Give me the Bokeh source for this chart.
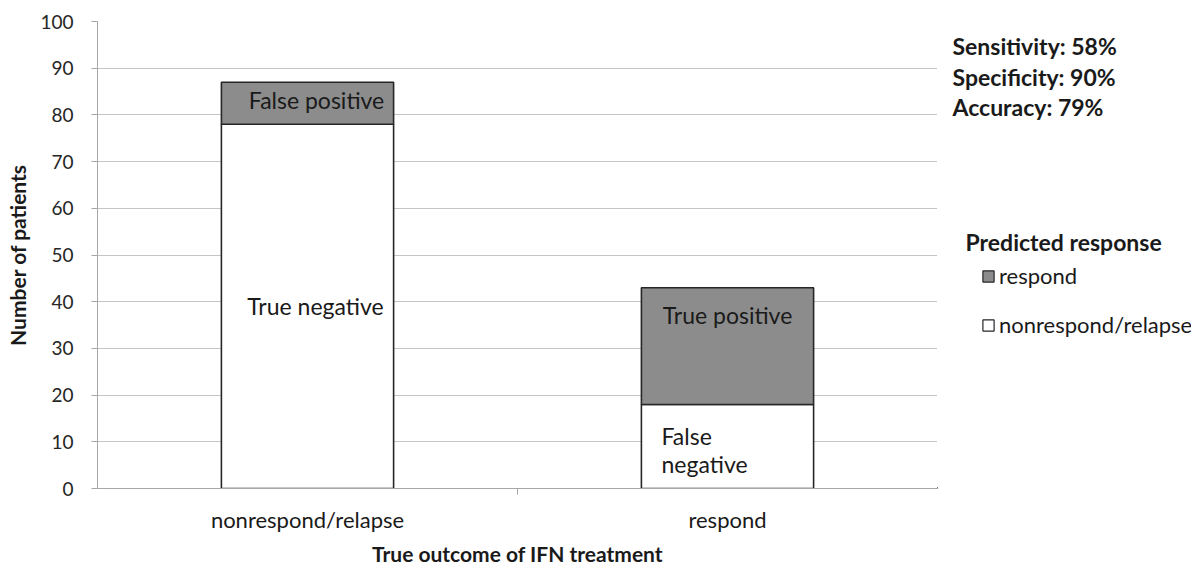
from bokeh.plotting import figure
from bokeh.layouts import row
from bokeh.models import (ColumnDataSource, Range1d, FixedTicker, Legend, LegendItem, Label)
from bokeh.core.properties import value
from bokeh.embed import file_html
from bokeh.resources import INLINE

# ---- data ----
categories = ["nonrespond/relapse", "respond"]
pred_nonrespond = [78, 18]   # True negative, False negative
pred_respond = [9, 25]       # False positive, True positive
white_labels = ["True negative", "False\nnegative"]
gray_labels = ["False positive", "True positive"]
y_ticks = [0, 10, 20, 30, 40, 50, 60, 70, 80, 90, 100]
legend_title = "Predicted response"
legend_labels = ["respond", "nonrespond/relapse"]

TN, FN = pred_nonrespond
FP, TP = pred_respond
sensitivity = TP / (TP + FN)
specificity = TN / (TN + FP)
accuracy = (TP + TN) / (TP + TN + FP + FN)

FONT = "Lato"
GRAY = "#8c8c8c"
EDGE = "#262626"
AX = "#a6a6a6"
TXT = "#1a1a1a"
H = 568
FB = 488   # expected page y of the frame bottom (used for the side panel)

xs = [i + 0.5 for i in range(len(categories))]
src = ColumnDataSource(dict(x=xs, pred_nonrespond=pred_nonrespond, pred_respond=pred_respond))

p = figure(width=937, height=H, output_backend="svg", toolbar_location=None,
           x_range=Range1d(0, len(categories)), y_range=Range1d(0, 100),
           min_border_left=97, min_border_right=0, min_border_top=21,
           min_border_bottom=74)
p.outline_line_color = None

rs = p.vbar_stack(["pred_nonrespond", "pred_respond"], x="x", width=0.41, source=src,
                  fill_color=["white", GRAY], line_color=EDGE, line_width=1.6)

# segment labels
tx, ty, tt, ta, txo, tyo = [], [], [], [], [], []
for i in range(len(categories)):
    w0 = pred_nonrespond[i]
    g0 = pred_respond[i]
    tx.append(xs[i]); ty.append(w0 + g0 / 2); tt.append(gray_labels[i])
    ta.append("center"); txo.append(9 if i == 0 else 0); tyo.append(-3 if i == 0 else -31)
    tx.append(xs[i]); ty.append(w0 / 2); tt.append(white_labels[i])
    ta.append("center" if i == 0 else "left"); txo.append(8 if i == 0 else -66)
    tyo.append(0 if i == 0 else 4)
tsrc = ColumnDataSource(dict(x=tx, y=ty, text=tt, align=ta, xo=txo, yo=tyo))
p.text(x="x", y="y", text="text", source=tsrc, text_align="align", x_offset="xo",
       y_offset="yo", text_baseline="middle", text_font=value(FONT),
       text_font_size="23px", text_color=TXT, text_line_height=1.0)

# axes
p.yaxis.ticker = FixedTicker(ticks=y_ticks)
p.yaxis.axis_line_color = AX
p.yaxis.major_tick_line_color = AX
p.yaxis.major_tick_out = 6
p.yaxis.major_tick_in = 0
p.yaxis.minor_tick_line_color = None
p.yaxis.major_label_text_font = FONT
p.yaxis.major_label_text_font_size = "19px"
p.yaxis.major_label_text_color = "#262626"
p.yaxis.major_label_standoff = 18
p.yaxis.axis_label = "Number of patients"
p.yaxis.axis_label_text_font = FONT
p.yaxis.axis_label_text_font_style = "bold"
p.yaxis.axis_label_text_font_size = "21px"
p.yaxis.axis_label_text_color = TXT
p.yaxis.axis_label_standoff = 7

p.xaxis.ticker = FixedTicker(ticks=xs, minor_ticks=list(range(1, len(categories))))
p.xaxis.major_label_overrides = {x: c for x, c in zip(xs, categories)}
p.xaxis.axis_line_color = AX
p.xaxis.major_tick_line_color = None
p.xaxis.major_tick_out = 0
p.xaxis.minor_tick_line_color = AX
p.xaxis.minor_tick_out = 6
p.xaxis.minor_tick_in = 0
p.xaxis.major_label_text_font = FONT
p.xaxis.major_label_text_font_size = "22px"
p.xaxis.major_label_text_color = TXT
p.xaxis.major_label_standoff = 11
p.xaxis.axis_label = "True outcome of IFN treatment"
p.xaxis.axis_label_text_font = FONT
p.xaxis.axis_label_text_font_style = "bold"
p.xaxis.axis_label_text_font_size = "21px"
p.xaxis.axis_label_text_color = TXT
p.xaxis.axis_label_standoff = 5

p.xgrid.grid_line_color = None
p.ygrid.grid_line_color = "#c4c4c4"
p.ygrid.grid_line_width = 1.2
p.ygrid.ticker = FixedTicker(ticks=y_ticks)

# ---- right-hand panel: statistics and legend ----
p2 = figure(width=254, height=H, output_backend="svg", toolbar_location=None,
            x_range=Range1d(0, 254), y_range=Range1d(0, H),
            x_axis_location=None, y_axis_location=None,
            min_border_left=0, min_border_right=0, min_border_top=0, min_border_bottom=0)
p2.outline_line_color = None
p2.xgrid.visible = False
p2.ygrid.visible = False

stats = [f"Sensitivity: {round(sensitivity * 100)}%",
         f"Specificity: {round(specificity * 100)}%",
         f"Accuracy: {round(accuracy * 100)}%"]
stat_rows = [45, 76, 106]
for s, yy in zip(stats, stat_rows):
    p2.add_layout(Label(x=15, y=FB - yy, x_units="screen", y_units="screen",
                        text=s, text_font=FONT, text_font_size="23px",
                        text_font_style="bold", text_color=TXT, text_baseline="middle"))

p2.add_layout(Label(x=28, y=FB - 241, x_units="screen", y_units="screen", text=legend_title,
                    text_font=FONT, text_font_size="23px", text_font_style="bold",
                    text_color=TXT, text_baseline="middle"))

# swatch renderers for the legend (one point outside the visible range)
sw_resp = p2.vbar(x=[-50], top=[1], width=1, fill_color=GRAY, line_color=EDGE, line_width=1.2)
sw_non = p2.vbar(x=[-50], top=[1], width=1, fill_color="white", line_color=EDGE, line_width=1.2)
legend = Legend(items=[LegendItem(label=legend_labels[0], renderers=[sw_resp]),
                       LegendItem(label=legend_labels[1], renderers=[sw_non])],
                location=(44, FB - 338), orientation="vertical",
                glyph_width=14, glyph_height=14, label_height=26, spacing=22,
                label_standoff=4, padding=0, margin=0,
                border_line_color=None, background_fill_alpha=0,
                label_text_font=FONT, label_text_font_size="22px",
                label_text_color=TXT)
p2.add_layout(legend)

layout = row(p, p2)
open("out.html", "w").write(file_html(layout, INLINE))
